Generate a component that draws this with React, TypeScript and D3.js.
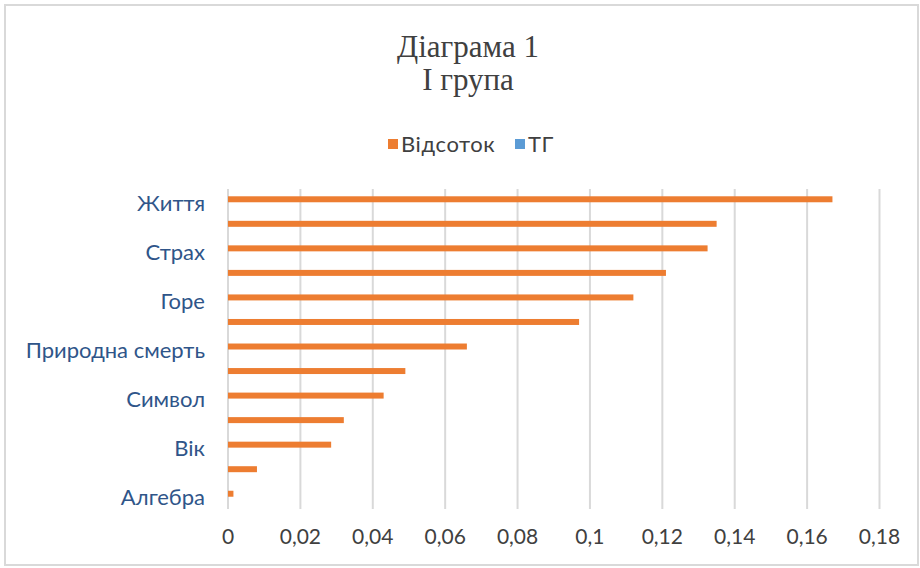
import React from 'react';
import * as d3 from 'd3';

// categories top -> bottom (only every other label is shown in the original)
const categories = ['Життя', '', 'Страх', '', 'Горе', '', 'Природна смерть', '', 'Символ', '', 'Вік', '', 'Алгебра'];
const percentValues = [0.167, 0.135, 0.1325, 0.121, 0.112, 0.097, 0.066, 0.049, 0.043, 0.032, 0.0285, 0.008, 0.0015];
const seriesNames = ['Відсоток', 'ТГ'];
const seriesColors = ['#ED7D31', '#5B9BD5'];
const xTicks = [0, 0.02, 0.04, 0.06, 0.08, 0.1, 0.12, 0.14, 0.16, 0.18];
const titleLines = ['Діаграма 1', 'І група'];

const App = () => {
  const width = 920;
  const height = 568;
  const plot = { left: 228, right: 879.5, top: 190, bottom: 509 };

  const x = d3.scaleLinear().domain([0, 0.18]).range([plot.left, plot.right]);
  const y = d3
    .scaleBand<number>()
    .domain(categories.map((_, i) => i))
    .range([plot.top, plot.bottom]);
  const sub = d3
    .scaleBand<string>()
    .domain(seriesNames)
    .range([0, y.bandwidth()])
    .paddingOuter(1.05);

  const fmt = (v: number) => d3.format('.2~f')(v).replace('.', ',');

  const labelFont = 'Lato, Carlito, "Open Sans", sans-serif';
  const legendX = [388, 515];

  return (
    <svg
      width={width}
      height={height}
      style={{ position: 'absolute', left: 0, top: 0, background: '#fff' }}
    >
      {/* chart frame */}
      <rect x={5} y={5} width={913} height={560} fill="#fff" stroke="#d9d9d9" strokeWidth={2} />

      {/* title */}
      {titleLines.map((t, i) => (
        <text
          key={t}
          x={468}
          y={57 + i * 33}
          textAnchor="middle"
          fontFamily='"Liberation Serif", serif'
          fontSize={31}
          fill="#404040"
        >
          {t}
        </text>
      ))}

      {/* legend */}
      {seriesNames.map((s, i) => (
        <g key={s} transform={`translate(${legendX[i]},139)`}>
          <rect width={10} height={10} fill={seriesColors[i]} />
          <text
            x={13}
            y={5}
            dy="0.36em"
            fontFamily={labelFont}
            fontSize={22}
            letterSpacing={0.6}
            fill="#404040"
          >
            {s}
          </text>
        </g>
      ))}

      {/* vertical gridlines */}
      {xTicks.map((t) => (
        <line
          key={t}
          x1={x(t)}
          x2={x(t)}
          y1={plot.top - 1}
          y2={plot.bottom}
          stroke="#d9d9d9"
          strokeWidth={2}
        />
      ))}

      {/* x tick labels */}
      {xTicks.map((t) => (
        <text
          key={'l' + t}
          x={x(t)}
          y={544}
          textAnchor="middle"
          fontFamily={labelFont}
          fontSize={21}
          fill="#404040"
        >
          {fmt(t)}
        </text>
      ))}

      {/* y category labels */}
      {categories.map((c, i) =>
        c ? (
          <text
            key={'c' + i}
            x={205}
            y={(y(i) ?? 0) + y.bandwidth() / 2}
            dy="0.38em"
            textAnchor="end"
            fontFamily={labelFont}
            fontSize={22}
            fill="#2F5589"
          >
            {c}
          </text>
        ) : null
      )}

      {/* bars */}
      {percentValues.map((v, i) => (
        <rect
          key={'b' + i}
          x={x(0)}
          y={(y(i) ?? 0) + (sub(seriesNames[0]) ?? 0)}
          width={x(v) - x(0)}
          height={sub.bandwidth()}
          fill={seriesColors[0]}
        />
      ))}
    </svg>
  );
};

export default App;
